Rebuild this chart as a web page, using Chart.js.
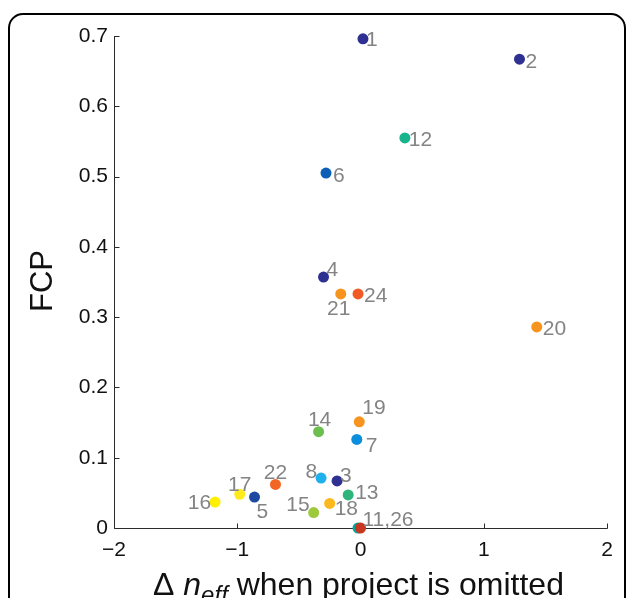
<!DOCTYPE html>
<html>
<head>
<meta charset="utf-8">
<script src="https://cdn.jsdelivr.net/npm/chart.js@4.4.1/dist/chart.umd.min.js"></script>
<style>
  html, body { margin: 0; padding: 0; background: #fff; }
  #wrap { width: 627px; height: 598px; }
</style>
</head>
<body>
<div id="wrap"><canvas id="chartFcp" width="627" height="598"></canvas></div>
<script>
// FCP vs change in n_eff when each project is left out

const projectIds = [1, 2, 3, 4, 5, 6, 7, 8, 11, 12, 13, 14, 15, 16, 17, 18, 19, 20, 21, 22, 24, 26];
const deltaNeff = [0.02, 1.29, -0.19, -0.30, -0.86, -0.28, -0.03, -0.32, -0.02, 0.36, -0.10,
  -0.34, -0.38, -1.18, -0.98, -0.25, -0.01, 1.43, -0.16, -0.69, -0.02, 0.0];
const fcp = [0.696, 0.667, 0.067, 0.357, 0.044, 0.505, 0.126, 0.071, 0, 0.555, 0.047,
  0.137, 0.022, 0.037, 0.048, 0.035, 0.151, 0.286, 0.333, 0.062, 0.333, 0];
const pointLabels = ["1", "2", "3", "4", "5", "6", "7", "8", "", "12", "13",
  "14", "15", "16", "17", "18", "19", "20", "21", "22", "24", "11,26"];
const xTickValues = [-2, -1, 0, 1, 2];
const yTickValues = [0, 0.1, 0.2, 0.3, 0.4, 0.5, 0.6, 0.7];

// styling
const POINT_COLORS = {
  1: "#2e3192", 2: "#2e3192", 3: "#2e3192", 4: "#2e3192",
  5: "#1d4aa0", 6: "#0b5fb6", 7: "#0b8edb", 8: "#1fb1ec",
  11: "#00a99d", 12: "#17b48c", 13: "#2fb57c", 14: "#6cbf4e",
  15: "#9dc93b", 16: "#fff000", 17: "#ffeb1c", 18: "#fdb81e",
  19: "#f7941d", 20: "#f7941d", 21: "#f7941d", 22: "#f26522",
  24: "#f15a24", 26: "#c8371f",
};
// label placement relative to the marker: [dx, dy, align]
const LABEL_POS = {
  1: [3, 0, "left"], 2: [6, 1, "left"], 3: [3, -6, "left"], 4: [3, -9, "left"],
  5: [2, 13, "left"], 6: [7, 1, "left"], 7: [9, 5, "left"], 8: [-4, -8, "right"],
  12: [4, 1, "left"], 13: [7, -3, "left"], 14: [1, -13, "center"], 15: [-4, -9, "right"],
  16: [-4, 0, "right"], 17: [0, -11, "center"], 18: [5, 4, "left"], 19: [3, -15, "left"],
  20: [6, 1, "left"], 21: [-2, 14, "center"], 22: [0, -13, "center"], 24: [6, 1, "left"],
  26: [2, -10, "left"],
};

const FONT = "'Liberation Sans', Arial, Helvetica, sans-serif";
const AXIS_COLOR = "#2b2b2b";

const framePlugin = {
  id: "frame",
  beforeDraw(chart) {
    const c = chart.ctx;
    c.save();
    c.fillStyle = "#fff";
    c.fillRect(0, 0, chart.width, chart.height);
    c.strokeStyle = "#000";
    c.lineWidth = 2;
    c.beginPath();
    c.roundRect(9, 14, 616, 640, 14);
    c.stroke();
    c.restore();
  },
};

const axesPlugin = {
  id: "matlabAxes",
  beforeDatasetsDraw(chart) {
    const { ctx: c, scales: { x, y } } = chart;
    const x0 = Math.round(x.getPixelForValue(-2)) + 0.5;
    const y0 = Math.round(y.getPixelForValue(0)) + 0.5;
    c.save();
    c.strokeStyle = AXIS_COLOR;
    c.lineWidth = 1;
    c.beginPath();
    c.moveTo(x0, Math.round(y.getPixelForValue(0.7)));
    c.lineTo(x0, y0);
    c.lineTo(Math.round(x.getPixelForValue(2)) + 0.5, y0);
    yTickValues.forEach((v) => {
      const py = Math.round(y.getPixelForValue(v)) + 0.5;
      c.moveTo(x0, py);
      c.lineTo(x0 + 5, py);
    });
    xTickValues.forEach((v) => {
      const px = Math.round(x.getPixelForValue(v)) + 0.5;
      c.moveTo(px, y0);
      c.lineTo(px, y0 - 5);
    });
    c.stroke();
    c.restore();
  },
  afterDraw(chart) {
    const { ctx: c, scales: { x } } = chart;
    c.save();
    // y title
    c.fillStyle = "#111";
    c.font = `31px ${FONT}`;
    c.textAlign = "center";
    c.textBaseline = "middle";
    c.translate(43, 281);
    c.rotate(-Math.PI / 2);
    c.fillText("FCP", 0, 0);
    c.restore();

    // x title with italic subscript
    c.save();
    c.fillStyle = "#111";
    c.textBaseline = "alphabetic";
    c.textAlign = "left";
    const parts = [
      { t: "\u0394 ", f: `32px ${FONT}`, dy: 0 },
      { t: "n", f: `italic 32px ${FONT}`, dy: 0 },
      { t: "eff", f: `italic 24px ${FONT}`, dy: 8 },
      { t: " when project is omitted", f: `32px ${FONT}`, dy: 0 },
    ];
    let total = 0;
    parts.forEach((p) => {
      c.font = p.f;
      p.w = c.measureText(p.t).width;
      total += p.w;
    });
    let px = x.getPixelForValue(0) - total / 2 - 2;
    parts.forEach((p) => {
      c.font = p.f;
      c.fillText(p.t, px, 595 + p.dy);
      px += p.w;
    });
    c.restore();
  },
};

const labelPlugin = {
  id: "pointLabels",
  afterDatasetsDraw(chart) {
    const c = chart.ctx;
    const meta = chart.getDatasetMeta(0);
    c.save();
    c.font = `21px ${FONT}`;
    c.fillStyle = "#848484";
    c.textBaseline = "alphabetic";
    meta.data.forEach((pt, i) => {
      const txt = pointLabels[i];
      if (!txt) return;
      const [dx, dy, align] = LABEL_POS[projectIds[i]];
      c.textAlign = align;
      c.fillText(txt, pt.x + dx, pt.y + dy + 7.5);
    });
    c.restore();
  },
};

new Chart(document.getElementById("chartFcp"), {
  type: "scatter",
  data: {
    datasets: [
      {
        data: deltaNeff.map((d, i) => ({ x: d, y: fcp[i] })),
        backgroundColor: projectIds.map((id) => POINT_COLORS[id]),
        borderWidth: 0,
        pointRadius: 5.5,
        pointHoverRadius: 5.5,
        clip: false,
      },
    ],
  },
  options: {
    responsive: false,
    animation: false,
    events: [],
    layout: { padding: { left: 0, top: 36, right: 20, bottom: 0 } },
    plugins: { legend: { display: false }, tooltip: { enabled: false } },
    scales: {
      x: {
        type: "linear",
        min: -2,
        max: 2,
        afterBuildTicks: (s) => { s.ticks = xTickValues.map((v) => ({ value: v })); },
        afterFit: (s) => { s.height = 70; },
        grid: { display: false },
        border: { display: false },
        ticks: {
          padding: 2,
          color: "#111",
          font: { family: FONT, size: 21 },
          maxRotation: 0,
          callback: (v) => (v < 0 ? "\u2212" + Math.abs(v) : String(v)),
        },
      },
      y: {
        type: "linear",
        min: 0,
        max: 0.7,
        afterBuildTicks: (s) => { s.ticks = yTickValues.map((v) => ({ value: v })); },
        afterFit: (s) => { s.width = 114; },
        grid: { display: false },
        border: { display: false },
        ticks: {
          padding: -2,
          color: "#111",
          font: { family: FONT, size: 21 },
          callback: (v) => String(+v.toFixed(1)),
        },
      },
    },
  },
  plugins: [framePlugin, axesPlugin, labelPlugin],
});
</script>
</body>
</html>
